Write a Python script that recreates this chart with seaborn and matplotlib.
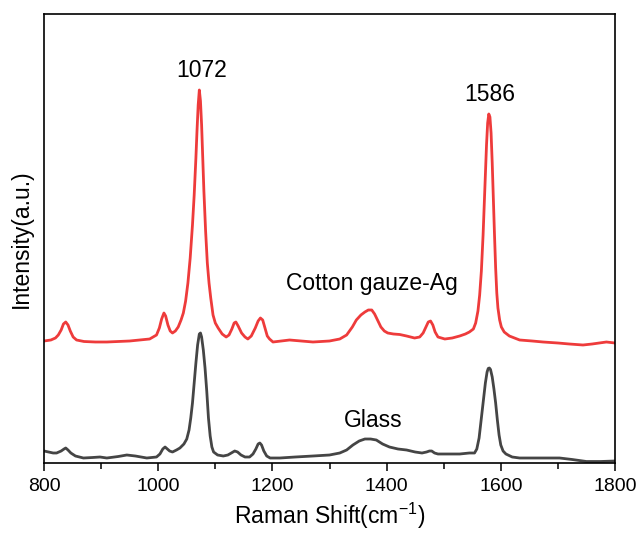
import matplotlib
matplotlib.use("Agg")
import matplotlib.pyplot as plt
import seaborn as sns
import pandas as pd
from matplotlib.ticker import MultipleLocator

# Raman shift (cm^-1) and intensity (a.u.)
cotton_x = [800, 812, 820, 825, 830, 834, 838, 842, 846, 851, 857, 870, 890, 910, 950, 985,
            997, 1002, 1006, 1010, 1013, 1017, 1021, 1025, 1030, 1035, 1040, 1044, 1048,
            1052, 1056, 1060, 1063, 1066, 1068, 1070, 1072, 1074, 1076, 1078, 1080, 1083,
            1086, 1089, 1092, 1096, 1100, 1105, 1112, 1119, 1124, 1129, 1133, 1136, 1140,
            1146, 1152, 1157, 1163, 1170, 1175, 1179, 1183, 1187, 1191, 1195, 1201, 1230,
            1271, 1300, 1318, 1330, 1340, 1347, 1355, 1362, 1368, 1374, 1379, 1384, 1390,
            1396, 1402, 1412, 1423, 1435, 1449, 1458, 1464, 1469, 1473, 1477, 1481, 1485,
            1490, 1502, 1515, 1528, 1538, 1545, 1552, 1556, 1560, 1563, 1566, 1569, 1572,
            1575, 1577, 1579, 1581, 1583, 1585, 1587, 1589, 1591, 1593, 1595, 1598, 1601,
            1606, 1615, 1633, 1655, 1674, 1700, 1720, 1744, 1760, 1773, 1785, 1800]
cotton_y = [122, 123, 125, 128, 133, 139, 141, 138, 132, 126, 123, 121.5, 121, 121, 122, 124,
            128, 135, 144, 150, 147, 138, 132, 130, 132, 136, 143, 150, 162,
            180, 205, 238, 268, 305, 333, 358, 373, 362, 338, 305, 272, 232,
            200, 180, 165, 148, 140, 135, 129, 126, 128, 134, 140, 141, 137,
            130, 126, 124, 127, 135, 142, 145, 143, 135, 127, 124, 121, 123,
            121, 122, 124, 128, 136, 143, 148, 151, 153, 153, 149, 143, 136,
            132, 130, 129, 128.5, 127, 125, 126, 130, 136, 141, 142, 138, 131,
            126, 124, 125, 127, 129, 131, 134, 140, 152, 168, 192, 228, 272,
            318, 340, 349, 346, 330, 300, 263, 228, 195, 170, 155, 143, 136,
            131, 127, 123, 122, 121, 120, 119, 118, 119, 120, 121, 120]

glass_x = [800, 808, 816, 822, 830, 835, 838, 842, 847, 855, 869, 885, 898, 910, 930, 945,
           960, 980, 997, 1003, 1008, 1012, 1016, 1020, 1025, 1032, 1038, 1045, 1050, 1054,
           1057, 1060, 1063, 1066, 1069, 1072, 1074, 1076, 1079, 1082, 1085, 1088, 1091,
           1094, 1097, 1104, 1114, 1122, 1128, 1134, 1139, 1145, 1152, 1160, 1166, 1171,
           1175, 1178, 1181, 1185, 1190, 1196, 1213, 1240, 1271, 1300, 1318, 1330, 1341,
           1352, 1362, 1372, 1382, 1393, 1405, 1420, 1435, 1450, 1462, 1470, 1475, 1479,
           1484, 1490, 1510, 1528, 1545, 1554, 1558, 1562, 1566, 1570, 1573, 1576, 1578,
           1580, 1582, 1585, 1588, 1591, 1594, 1597, 1600, 1604, 1609, 1620, 1633, 1660,
           1690, 1703, 1725, 1750, 1775, 1800]
glass_y = [12, 11, 10, 10, 12, 14, 15, 13, 10, 7, 5, 5.5, 6, 5, 6.5, 8,
           7, 5, 6, 9, 14, 16, 14, 12, 11, 13, 15, 19, 24, 33,
           45, 60, 80, 100, 118, 129, 130, 126, 113, 95, 72, 45, 27,
           16, 11, 8, 7, 8, 10, 12, 11, 8, 6, 6, 9, 14,
           19, 20, 18, 12, 7, 5, 5, 6, 7, 8, 10, 13, 18,
           22, 24, 24, 23, 19, 16, 14, 13, 11, 10, 11, 12, 12,
           10, 9, 9, 9, 10, 10, 14, 25, 45, 65, 80, 91, 94.5,
           95, 93.5, 86, 74, 60, 43, 28, 18, 12, 9, 6, 5, 5,
           5, 5, 3.5, 1.5, 1.5, 2]

samples = ["Cotton gauze-Ag", "Glass"]
peak_labels = ["1072", "1586"]
x_ticks = [800, 1000, 1200, 1400, 1600, 1800]

df = pd.concat([
    pd.DataFrame({"shift": cotton_x, "intensity": cotton_y, "sample": samples[0]}),
    pd.DataFrame({"shift": glass_x, "intensity": glass_y, "sample": samples[1]}),
])

sns.set_style("white")
plt.rcParams["font.family"] = ["Liberation Sans", "DejaVu Sans"]
plt.rcParams["text.color"] = "black"
plt.rcParams["axes.labelcolor"] = "black"
plt.rcParams["xtick.color"] = "black"
plt.rcParams["mathtext.fontset"] = "custom"
plt.rcParams["mathtext.rm"] = "Liberation Sans"
plt.rcParams["mathtext.default"] = "regular"

fig = plt.figure(figsize=(6.39, 5.38), dpi=100)
ax = fig.add_axes([0.0689, 0.1394, 0.8935, 0.8346])

sns.lineplot(data=df, x="shift", y="intensity", hue="sample",
             palette={samples[0]: "#EE3B3B", samples[1]: "#454545"},
             linewidth=2.0, legend=False, ax=ax, sort=False)
for ln in ax.lines:
    ln.set_solid_joinstyle("round")

ax.set_xlim(800, 1800)
ax.set_ylim(0, 449)
ax.set_xticks(x_ticks)
ax.xaxis.set_minor_locator(MultipleLocator(100))
ax.set_yticks([])
ax.tick_params(axis="x", which="major", direction="out", length=6, width=1.1,
               labelsize=14, bottom=True, pad=5, colors="black")
ax.tick_params(axis="x", which="minor", direction="out", length=4, width=1.1, bottom=True)
for s in ax.spines.values():
    s.set_visible(True)
    s.set_linewidth(1.2)
    s.set_color("black")

ax.set_xlabel("Raman Shift(cm$^{-1}$)", fontsize=16.5, labelpad=4)
ax.set_ylabel("Intensity(a.u.)", fontsize=16.5, labelpad=8)

ax.text(1076, 392, peak_labels[0], fontsize=16.5, ha="center", va="center")
ax.text(1580, 368, peak_labels[1], fontsize=16.5, ha="center", va="center")
ax.text(1374, 179, samples[0], fontsize=16.5, ha="center", va="center")
ax.text(1377, 43, samples[1], fontsize=16.5, ha="center", va="center")

fig.savefig("out.png", dpi=100)
